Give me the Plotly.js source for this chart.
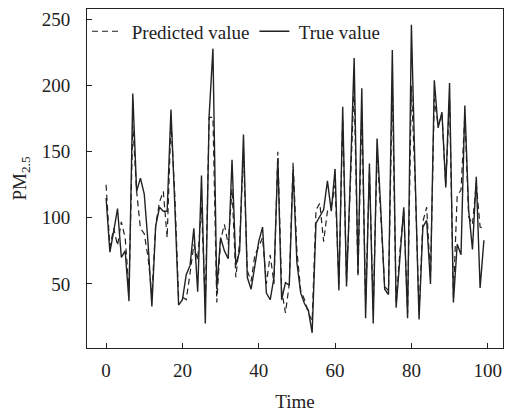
<!DOCTYPE html>
<html>
<head>
<meta charset="utf-8">
<script src="https://cdn.plot.ly/plotly-3.0.1.min.js"></script>
<style>html,body{margin:0;padding:0;background:#fff;}#chart{width:510px;height:412px;}</style>
</head>
<body>
<div id="chart"></div>
<script>
const timeSteps = Array.from({length: 100}, (_, i) => i);
const trueValues = [115, 74, 90, 107, 70, 75, 37, 194, 120, 130,
  118, 81, 33, 94, 108, 105, 105, 182, 110, 34,
  38, 57, 64, 92, 44, 132, 20, 177, 228, 46,
  85, 75, 69, 144, 64, 75, 163, 55, 46, 66,
  82, 93, 43, 38, 55, 145, 38, 51, 49, 137,
  66, 43, 35, 30, 13, 96, 101, 106, 128, 105,
  137, 45, 184, 48, 130, 221, 58, 198, 24, 141,
  20, 160, 105, 46, 42, 227, 32, 70, 108, 24,
  246, 130, 23, 93, 98, 50, 204, 168, 180, 123,
  202, 36, 80, 72, 185, 106, 76, 131, 47, 83];
const predictedValues = [125, 78, 92, 79, 97, 85, 46, 170, 120, 92,
  88, 70, 42, 95, 112, 120, 85, 172, 118, 40,
  40, 38, 58, 80, 68, 108, 35, 176, 176, 36,
  83, 95, 80, 122, 55, 82, 150, 60, 52, 72,
  78, 85, 50, 72, 50, 150, 45, 28, 50, 142,
  75, 45, 38, 28, 22, 106, 111, 82, 105, 108,
  125, 50, 175, 52, 125, 200, 55, 180, 35, 135,
  30, 150, 100, 48, 45, 200, 35, 75, 105, 28,
  200, 125, 28, 97, 108, 55, 190, 170, 178, 125,
  190, 40, 117, 121, 178, 101, 95, 126, 93, 92];
const yTicks = [50, 100, 150, 200, 250];
const xTicks = [0, 20, 40, 60, 80, 100];

const font = {family: '"Liberation Serif", "Times New Roman", serif', size: 19, color: '#222'};

const traces = [
  {x: timeSteps, y: predictedValues, type: 'scatter', mode: 'lines', name: ' Predicted value',
   line: {color: '#222', width: 1.2, dash: '6px,4px'}},
  {x: timeSteps, y: trueValues, type: 'scatter', mode: 'lines', name: ' True value',
   line: {color: '#222', width: 1.4}}
];

const layout = {
  width: 510, height: 412,
  margin: {l: 87, r: 7, t: 9, b: 64},
  paper_bgcolor: '#fff', plot_bgcolor: '#fff',
  font: font,
  showlegend: true,
  legend: {orientation: 'h', x: 0, y: 0.99, xanchor: 'left', yanchor: 'top',
    bgcolor: 'rgba(0,0,0,0)', font: font, itemwidth: 30, tracegroupgap: 0},
  xaxis: {range: [-5, 104], tickvals: xTicks, ticks: 'inside', ticklen: 5, tickcolor: '#222',
    showline: true, mirror: true, linecolor: '#222', linewidth: 1, showgrid: false, zeroline: false,
    title: {text: 'Time', font: font, standoff: 14}, tickfont: font, ticklabelstandoff: 5},
  yaxis: {range: [1.5, 258], tickvals: yTicks, ticks: 'inside', ticklen: 5, tickcolor: '#222',
    showline: true, mirror: true, linecolor: '#222', linewidth: 1, showgrid: false, zeroline: false,
    title: {text: 'PM<sub>2.5</sub>', font: font, standoff: 10}, tickfont: font,
    ticklabelstandoff: 12}
};

Plotly.newPlot('chart', traces, layout, {staticPlot: true, displayModeBar: false});
</script>
</body>
</html>
